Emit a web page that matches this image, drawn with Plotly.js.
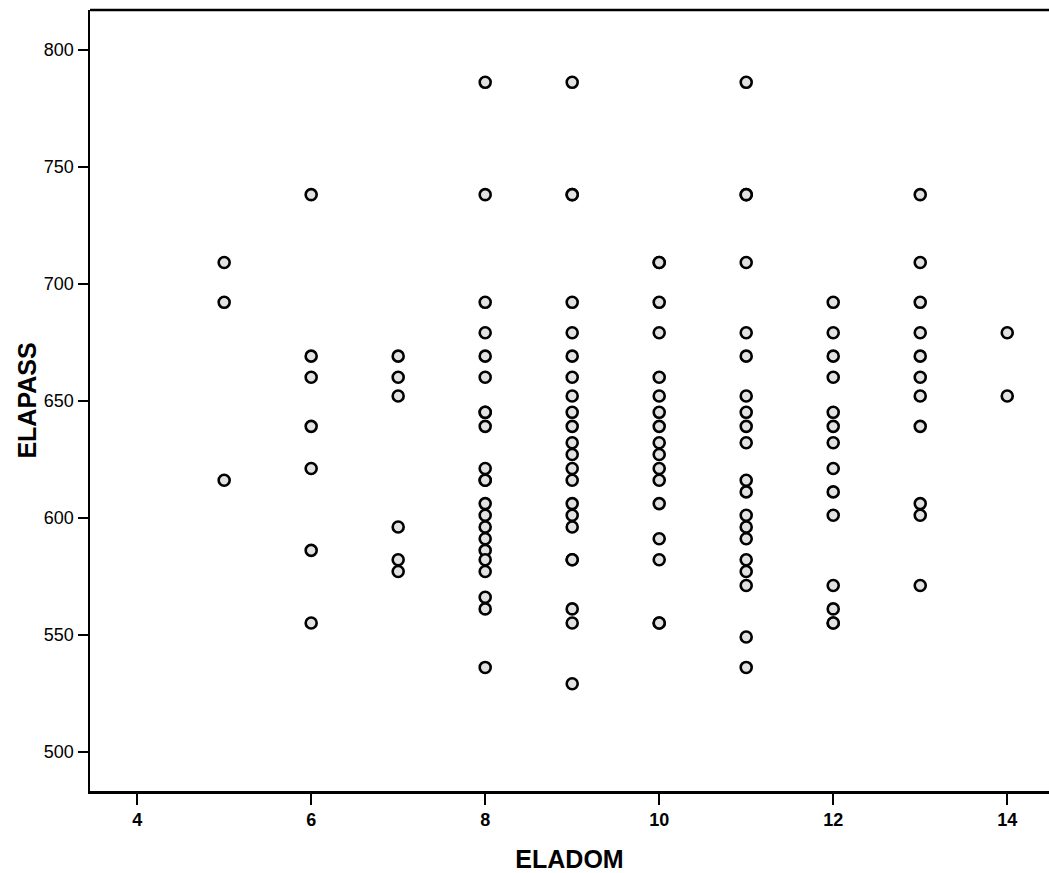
<!DOCTYPE html>
<html>
<head>
<meta charset="utf-8">
<script src="https://cdn.plot.ly/plotly-3.0.1.min.js"></script>
<style>html,body{margin:0;padding:0;background:#fff;overflow:hidden}</style>
</head>
<body>
<div id="chart" style="width:1049px;height:873px"></div>
<script>
// ELADOM (x) and ELAPASS (y) values
const eladom = [
  5,5,5,
  6,6,6,6,6,6,6,
  7,7,7,7,7,7,
  8,8,8,8,8,8,8,8,8,8,8,8,8,8,8,8,8,8,8,8,8,8,
  9,9,9,9,9,9,9,9,9,9,9,9,9,9,9,9,9,9,9,9,9,9,
  10,10,10,10,10,10,10,10,10,10,10,10,10,10,10,10,10,
  11,11,11,11,11,11,11,11,11,11,11,11,11,11,11,11,11,11,11,11,
  12,12,12,12,12,12,12,12,12,12,12,12,12,12,
  13,13,13,13,13,13,13,13,13,13,13,
  14,14
];
const elapass = [
  709,692,616,
  738,669,660,639,621,586,555,
  669,660,652,596,582,577,
  786,738,692,679,669,660,645,645,639,621,616,616,606,601,596,591,586,582,577,566,561,536,
  786,738,738,692,679,669,660,652,645,639,632,627,621,616,606,601,596,582,582,561,555,529,
  709,709,692,679,660,652,645,639,632,627,621,616,606,591,582,555,555,
  786,738,738,709,679,669,652,645,639,632,616,611,601,596,591,582,577,571,549,536,
  692,679,669,660,645,639,632,621,611,601,571,561,555,555,
  738,709,692,679,669,660,652,639,606,601,571,
  679,652
];
const xTicks = [4,6,8,10,12,14];
const yTicks = [500,550,600,650,700,750,800];

const trace = {
  type: 'scatter',
  mode: 'markers',
  x: eladom,
  y: elapass,
  marker: {
    symbol: 'circle',
    size: 11,
    color: '#e2e2e2',
    line: {color: '#000000', width: 2.6}
  },
  hoverinfo: 'x+y'
};

const layout = {
  width: 1049,
  height: 873,
  margin: {l: 90, r: 0, t: 10, b: 82, pad: 0},
  paper_bgcolor: '#ffffff',
  plot_bgcolor: '#ffffff',
  showlegend: false,
  font: {family: 'Liberation Sans, Arial, sans-serif', color: '#000'},
  xaxis: {
    range: [3.458, 14.48],
    tickvals: xTicks,
    ticktext: xTicks.map(String),
    ticks: 'outside',
    ticklen: 11,
    tickwidth: 2,
    tickcolor: '#000',
    showline: true,
    linecolor: '#000',
    linewidth: 2.5,
    showgrid: false,
    zeroline: false,
    tickfont: {size: 18, weight: 'bold', color: '#000'},
    title: {text: 'ELADOM', font: {size: 25, weight: 'bold', color: '#000'}, standoff: 23},
    automargin: false
  },
  yaxis: {
    range: [483.2, 816.9],
    tickvals: yTicks,
    ticktext: yTicks.map(String),
    ticks: 'outside',
    ticklen: 10,
    tickwidth: 2,
    tickcolor: '#000',
    showline: true,
    linecolor: '#000',
    linewidth: 2.5,
    showgrid: false,
    zeroline: false,
    tickfont: {size: 18, color: '#000'},
    title: {text: 'ELAPASS', font: {size: 25, weight: 'bold', color: '#000'}, standoff: 0},
    automargin: false
  },
  shapes: [{
    type: 'line', xref: 'paper', yref: 'paper',
    x0: 0, x1: 1, y0: 1, y1: 1,
    line: {color: '#000', width: 2.5}
  }]
};

Plotly.newPlot('chart', [trace], layout, {displayModeBar: false, staticPlot: true});
</script>
</body>
</html>
